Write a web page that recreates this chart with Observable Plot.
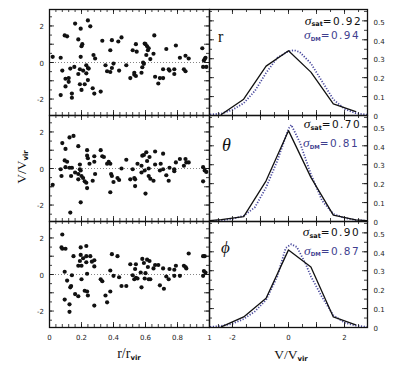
<!DOCTYPE html>
<html><head><meta charset="utf-8">
<script src="https://cdn.jsdelivr.net/npm/d3@7"></script>
<script src="https://cdn.jsdelivr.net/npm/@observablehq/plot@0.6"></script>
<style>
body{margin:0;background:#fff;}
#chart{position:relative;width:406px;height:370px;overflow:hidden;background:#fff;}
#chart svg{position:absolute;left:0;top:0;}
</style></head><body><div id="chart"></div>
<script>
// ---------------- data ----------------
const scatterR = [[0.02,0.31],[0.07,0.26],[0.08,-0.44],[0.07,-1.78],[0.095,1.48],[0.11,1.43],[0.10,-0.89],[0.10,-1.31],[0.12,-0.85],[0.12,-1.06],[0.13,-0.33],[0.14,-1.70],[0.14,-1.93],[0.16,2.13],[0.155,-0.24],[0.18,1.26],[0.18,-0.63],[0.19,-1.19],[0.19,-0.37],[0.195,1.85],[0.195,0.31],[0.20,0.89],[0.205,1.0],[0.20,-1.5],[0.21,-0.44],[0.22,-1.19],[0.23,-0.15],[0.24,-0.30],[0.24,-0.96],[0.23,-0.59],[0.24,2.30],[0.255,1.98],[0.245,-0.33],[0.27,-1.41],[0.275,0.41],[0.285,0.22],[0.28,-1.70],[0.32,-1.59],[0.33,1.19],[0.35,-0.15],[0.36,-0.48],[0.38,0.67],[0.38,-0.52],[0.39,1.22],[0.39,-0.30],[0.40,-0.06],[0.43,1.15],[0.435,-0.44],[0.45,1.37],[0.48,-0.15],[0.505,-0.85],[0.52,0.67],[0.53,-0.56],[0.53,-0.67],[0.54,1.0],[0.545,0.59],[0.54,-0.74],[0.575,-0.56],[0.58,-0.26],[0.585,0.0],[0.59,-0.07],[0.595,1.04],[0.605,0.41],[0.60,1.0],[0.61,0.89],[0.615,0.67],[0.62,0.78],[0.63,0.19],[0.65,0.48],[0.655,1.48],[0.66,-0.78],[0.68,-1.15],[0.69,-0.85],[0.71,-0.85],[0.71,-0.37],[0.73,0.74],[0.745,-0.37],[0.75,-0.44],[0.78,-0.37],[0.78,-0.63],[0.79,0.93],[0.815,0.26],[0.84,-0.37],[0.85,-0.48],[0.85,0.37],[0.87,0.22],[0.955,0.78],[0.96,-0.24],[0.965,0.11],[0.975,0.26],[0.98,-0.24],[0.97,0.19]];
const scatterTheta = [[0.02,-0.89],[0.075,-0.41],[0.07,-0.04],[0.08,1.39],[0.10,1.07],[0.095,0.44],[0.11,0.37],[0.10,0.07],[0.125,1.70],[0.15,1.78],[0.125,0.04],[0.14,0.04],[0.135,-0.41],[0.13,-2.41],[0.16,-0.22],[0.18,1.22],[0.18,-0.30],[0.19,-0.04],[0.19,0.22],[0.195,-0.11],[0.18,-0.59],[0.20,-0.41],[0.195,-1.85],[0.21,-0.52],[0.22,-0.70],[0.23,-0.78],[0.235,1.0],[0.235,0.70],[0.24,0.56],[0.235,-1.07],[0.25,0.26],[0.27,-0.67],[0.28,0.67],[0.28,0.37],[0.285,-0.30],[0.32,1.0],[0.33,0.67],[0.34,0.63],[0.36,0.26],[0.37,0.37],[0.38,0.26],[0.38,-1.30],[0.385,-0.30],[0.39,-0.41],[0.40,-0.74],[0.425,-0.52],[0.435,-0.63],[0.45,0.0],[0.48,0.48],[0.505,-0.59],[0.52,-0.04],[0.53,-0.52],[0.535,-0.59],[0.535,-0.96],[0.55,0.26],[0.575,-0.22],[0.575,0.15],[0.58,0.70],[0.59,0.74],[0.595,-0.11],[0.60,-1.37],[0.605,0.89],[0.61,0.41],[0.62,0.0],[0.62,-0.41],[0.625,0.63],[0.63,-0.56],[0.65,-0.67],[0.66,0.22],[0.66,0.93],[0.69,-0.11],[0.695,0.26],[0.71,0.81],[0.71,-0.04],[0.73,-0.37],[0.745,-0.67],[0.75,0.04],[0.78,-0.04],[0.78,-0.15],[0.79,0.33],[0.815,0.52],[0.84,0.15],[0.85,0.52],[0.855,0.33],[0.87,0.33],[0.96,0.07],[0.96,-0.70],[0.97,-0.11],[0.98,-0.19]];
const scatterPhi = [[0.08,2.19],[0.075,1.48],[0.08,1.41],[0.10,1.41],[0.095,0.15],[0.11,-0.33],[0.095,-1.37],[0.125,-1.63],[0.125,-2.04],[0.13,-0.70],[0.135,-0.63],[0.14,-0.04],[0.15,1.0],[0.16,-1.07],[0.18,-1.19],[0.195,1.48],[0.195,1.07],[0.19,0.74],[0.18,0.48],[0.20,-0.26],[0.20,0.48],[0.21,0.89],[0.22,-0.89],[0.23,1.56],[0.23,0.67],[0.23,1.0],[0.235,0.04],[0.24,-1.15],[0.235,-0.93],[0.255,1.0],[0.265,0.70],[0.28,0.78],[0.28,0.44],[0.28,-1.70],[0.32,-0.26],[0.33,-0.37],[0.35,-1.15],[0.36,-1.52],[0.38,-0.93],[0.38,0.22],[0.39,1.11],[0.40,-0.07],[0.425,1.0],[0.435,-0.15],[0.45,-0.63],[0.48,-0.63],[0.505,0.56],[0.52,-0.04],[0.53,-0.26],[0.535,0.30],[0.54,0.56],[0.54,-0.19],[0.55,-0.22],[0.57,0.11],[0.575,-0.70],[0.58,0.85],[0.59,0.63],[0.595,-0.22],[0.60,0.07],[0.61,0.81],[0.615,0.41],[0.62,-0.26],[0.625,0.74],[0.63,-0.26],[0.65,0.33],[0.66,0.52],[0.68,0.52],[0.69,-0.59],[0.71,0.33],[0.715,-0.78],[0.73,-0.11],[0.745,-0.26],[0.75,0.30],[0.78,-0.07],[0.78,0.26],[0.79,0.48],[0.815,-0.07],[0.84,0.48],[0.85,0.41],[0.855,0.33],[0.87,1.15],[0.96,1.0],[0.97,1.0],[0.96,-0.07],[0.965,0.19],[0.975,0.11]];

// satellite histograms (solid)
const satBins   = [-2.4,-1.6,-0.8,0,0.8,1.6,2.4];
const satR      = [0.005,0.086,0.261,0.342,0.229,0.062,0.021];
const satThetaBins = [-3.2,-2.4,-1.6,-0.8,0,0.8,1.6,2.4,3.2];
const satTheta  = [0.0,0.010,0.026,0.215,0.48,0.233,0.034,0.009,0.0];
const satPhi    = [0.003,0.056,0.155,0.41,0.32,0.056,0.014];

// dark-matter distributions (dotted)
const dmRx      = [-2.8,-2.4,-2.0,-1.6,-1.2,-0.8,-0.4,0,0.2,0.4,0.8,1.2,1.6,2.0,2.4,2.8];
const dmR       = [0.005,0.01,0.03,0.065,0.13,0.225,0.305,0.34,0.345,0.335,0.275,0.18,0.085,0.035,0.012,0.004];
const dmThetax  = [-2.8,-2.4,-2.0,-1.6,-1.2,-0.8,-0.4,0,0.1,0.4,0.8,1.2,1.6,2.0,2.4,2.8];
const dmTheta   = [0.002,0.006,0.014,0.03,0.075,0.18,0.32,0.49,0.51,0.42,0.25,0.11,0.04,0.018,0.008,0.003];
const dmPhix    = [-2.8,-2.4,-2.0,-1.6,-1.2,-0.8,-0.4,-0.1,0.1,0.3,0.6,0.8,1.2,1.6,2.0,2.4,2.8];
const dmPhi     = [0.003,0.008,0.02,0.045,0.085,0.145,0.27,0.42,0.44,0.425,0.34,0.27,0.16,0.065,0.025,0.01,0.003];

const panelLabels = ["r","θ","ϕ"];
const sigmaSat = ["0.92","0.70","0.90"];
const sigmaDM  = ["0.94","0.81","0.87"];

const leftXTicks  = [0,0.2,0.4,0.6,0.8,1];
const leftYTicks  = [-2,0,2];
const rightXTicks = [-2,0,2];
const rightYTicks = [0,0.1,0.2,0.3,0.4,0.5];

// ---------------- layout ----------------
const W = 406, H = 370;
const colL = [49,209], colR = [209,367];
const rows = [[9,115],[115,221],[221,327]];
const xDomL = [0,1], yDomL = [-2.9,2.9];
const xDomR = [-2.82,2.82], yDomR = [0,0.56];
const DMC = "#3f3f8f", DOTC = "#4a4a9e";
const SANS = "DejaVu Sans, Liberation Sans, sans-serif";
const SERIF = "Liberation Serif, DejaVu Serif, serif";

const range = (a,b,s) => d3.range(Math.round(a/s), Math.round(b/s)+1).map(i => +(i*s).toFixed(4));
const inDom = (arr, dom) => arr.filter(v => v >= dom[0]-1e-9 && v <= dom[1]+1e-9);

function tickMarks(xDom, yDom, xMinor, xMajor, yMinor, yMajor, pw, ph) {
  const st = {stroke:"#111", strokeWidth:0.8};
  const xm = inDom(xMinor, xDom), xM = inDom(xMajor, xDom);
  const ym = inDom(yMinor, yDom), yM = inDom(yMajor, yDom);
  return [
    Plot.tickX(xm, {x: d=>d, insetTop: ph-3, ...st}),
    Plot.tickX(xm, {x: d=>d, insetBottom: ph-3, ...st}),
    Plot.tickX(xM, {x: d=>d, insetTop: ph-5, ...st}),
    Plot.tickX(xM, {x: d=>d, insetBottom: ph-5, ...st}),
    Plot.tickY(ym, {y: d=>d, insetRight: pw-3, ...st}),
    Plot.tickY(ym, {y: d=>d, insetLeft: pw-3, ...st}),
    Plot.tickY(yM, {y: d=>d, insetRight: pw-5, ...st}),
    Plot.tickY(yM, {y: d=>d, insetLeft: pw-5, ...st})
  ];
}

function makePanel(col, row, xDom, yDom, marks) {
  return Plot.plot({
    width: W, height: H,
    marginLeft: col[0], marginRight: W - col[1],
    marginTop: row[0], marginBottom: H - row[1],
    style: {background: "transparent", overflow: "visible"},
    x: {domain: xDom, axis: null},
    y: {domain: yDom, axis: null},
    marks
  });
}

function rich(svg, x, y, parts, anchor = "end", rotate = 0) {
  const t = d3.select(svg).append("text")
    .attr("transform", `translate(${x},${y}) rotate(${rotate})`)
    .attr("text-anchor", anchor);
  for (const p of parts) {
    const s = t.append("tspan").attr("font-family", p.f).attr("font-size", p.s).text(p.t);
    if (p.w) s.attr("font-weight", p.w);
    if (p.i) s.attr("font-style", "italic");
    if (p.dy) s.attr("dy", p.dy);
    if (p.ls) s.attr("letter-spacing", p.ls);
    s.attr("fill", p.c || "#111");
  }
}

const chart = document.getElementById("chart");
const scatters = [scatterR, scatterTheta, scatterPhi];
const sats = [[satBins, satR], [satThetaBins, satTheta], [satBins, satPhi]];
const dms = [[dmRx, dmR], [dmThetax, dmTheta], [dmPhix, dmPhi]];
const satPos = [[362,24.5,360,39],[361,128,359,147],[360,236,360,254.5]];
const lblPos = [[218,41.7,16,false],[222,151.3,18,true],[221,252.5,17,true]];

rows.forEach((row, i) => {
  const ph = row[1]-row[0];
  const last = i === rows.length-1;
  // ---- left: scatter ----
  const pwL = colL[1]-colL[0];
  const leftMarks = [
    Plot.ruleY([0], {stroke:"#777", strokeWidth:0.9, strokeDasharray:"1,2"}),
    Plot.dot(scatters[i], {x: d=>d[0], y: d=>d[1], r: 2.1, fill: "#111", stroke: "none"}),
    ...tickMarks(xDomL, yDomL, range(0,1,0.04), range(0,1,0.2), range(-3,3,0.5), range(-3,3,1), pwL, ph),
    Plot.frame({stroke:"#111", strokeWidth:1.3}),
    Plot.text(leftYTicks, {y: d=>d, frameAnchor:"left", dx:-5.5, dy:1, textAnchor:"end", text: d=>String(d), fontSize:7, fontFamily:SANS, fill:"#222"})
  ];
  if (last) leftMarks.push(Plot.text(leftXTicks, {x: d=>d, frameAnchor:"bottom", dy:12, text: d=>String(d), fontSize:7, fontFamily:SANS, fill:"#222"}));
  const svgL = makePanel(colL, row, xDomL, yDomL, leftMarks);
  chart.appendChild(svgL);

  // ---- right: histograms ----
  const pwR = colR[1]-colR[0];
  const [sx, sy] = sats[i], [dx, dy] = dms[i];
  const rightMarks = [
    Plot.line(dx.map((v,k)=>({v, f: dy[k]})), {x:"v", y:"f", stroke: DOTC, strokeWidth:1.8, strokeDasharray:"1.2,1.6", strokeLinecap:"butt", clip:true}),
    Plot.line(sx.map((v,k)=>({v, f: sy[k]})), {x:"v", y:"f", stroke: "#111", strokeWidth:1.3, clip:true}),
    ...tickMarks(xDomR, yDomR, range(-3,3,0.5), range(-3,3,1), range(0,0.55,0.05), range(0,0.5,0.1), pwR, ph),
    Plot.frame({stroke:"#111", strokeWidth:1.3}),
    Plot.text(rightYTicks, {y: d=>d, frameAnchor:"right", dx:6, dy:1.5, textAnchor:"start", text: d=>String(d), fontSize:7, fontFamily:SANS, fill:"#222"})
  ];
  if (last) rightMarks.push(Plot.text(rightXTicks, {x: d=>d, frameAnchor:"bottom", dy:12, text: d=>String(d), fontSize:7, fontFamily:SANS, fill:"#222"}));
  const svgR = makePanel(colR, row, xDomR, yDomR, rightMarks);
  chart.appendChild(svgR);

  // annotations
  const [sxE, syB, dxE, dyB] = satPos[i];
  rich(svgR, sxE, syB, [
    {t:"σ", f:SERIF, s:13.5, i:true},
    {t:"sat", f:SANS, s:6.5, w:"bold", dy:1.5},
    {t:"=" + sigmaSat[i], f:SANS, s:10.5, dy:-1.5, ls:1.4}
  ]);
  rich(svgR, dxE, dyB, [
    {t:"σ", f:SERIF, s:13.5, i:true, c:DMC},
    {t:"DM", f:SANS, s:5.5, w:"bold", dy:1.5, c:DMC},
    {t:"=" + sigmaDM[i], f:SANS, s:10.5, dy:-1.5, ls:1.4, c:DMC}
  ]);
  const [lx, ly, ls, it] = lblPos[i];
  rich(svgR, lx, ly, [{t: panelLabels[i], f:SERIF, s:ls, i:it}], "start");

  if (last) {
    rich(svgL, 129, 358, [
      {t:"r/r", f:SERIF, s:14},
      {t:"vir", f:SANS, s:7, w:"bold", dy:2}
    ], "middle");
    rich(svgR, 291, 359, [
      {t:"V/V", f:SERIF, s:13.5},
      {t:"vir", f:SANS, s:7, w:"bold", dy:2}
    ], "middle");
  }
  if (i === 1) {
    rich(svgL, 26, 167, [
      {t:"V/V", f:SERIF, s:13.5},
      {t:"vir", f:SANS, s:7, w:"bold", dy:2}
    ], "middle", -90);
  }
});
</script></body></html>
